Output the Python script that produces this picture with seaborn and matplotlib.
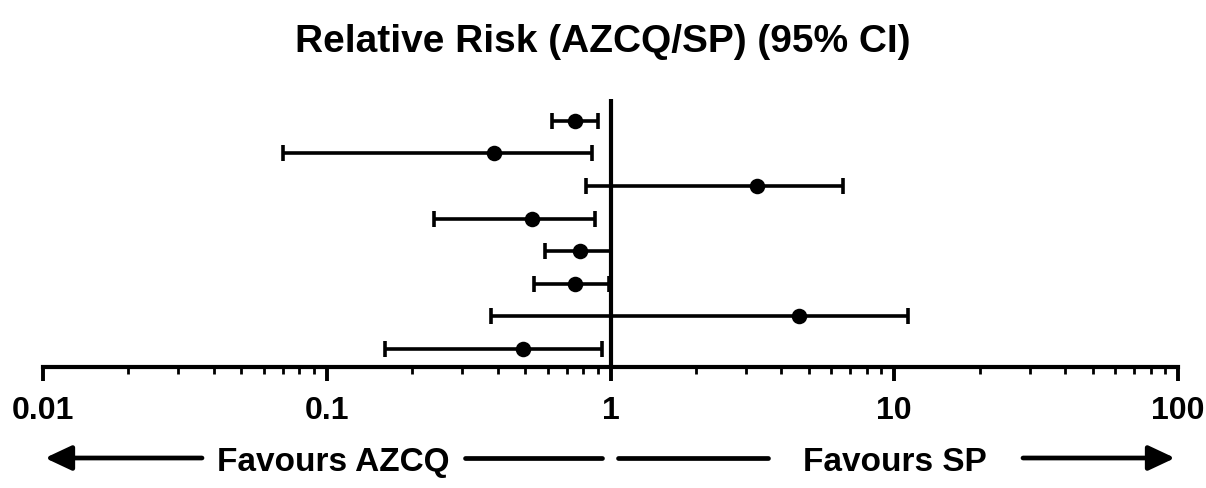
import numpy as np
import pandas as pd
import seaborn as sns
import matplotlib.pyplot as plt
from matplotlib.ticker import LogLocator, NullFormatter, FixedLocator

# relative risk and 95% CI per row (top to bottom)
rows = [1, 2, 3, 4, 5, 6, 7, 8]
rr = [0.75, 0.39, 3.27, 0.53, 0.78, 0.75, 4.6, 0.49]
ci_low = [0.62, 0.070, 0.82, 0.238, 0.586, 0.537, 0.38, 0.16]
ci_high = [0.90, 0.86, 6.6, 0.88, 1.0, 0.99, 11.2, 0.93]
tick_vals = [0.01, 0.1, 1, 10, 100]
tick_labels = ["0.01", "0.1", "1", "10", "100"]

df = pd.DataFrame({"row": rows, "rr": rr, "lo": ci_low, "hi": ci_high})

sns.set_style("white")
plt.rcParams["font.family"] = ["Liberation Sans", "DejaVu Sans"]
plt.rcParams["text.color"] = "black"
plt.rcParams["xtick.color"] = "black"

W, H = 1206, 489
fig = plt.figure(figsize=(W / 100, H / 100), dpi=100)
ax = fig.add_axes([43 / W, 1 - 368 / H, (1178 - 43) / W, (368 - 100) / H])

ax.errorbar(df["rr"], df["row"],
            xerr=[df["rr"] - df["lo"], df["hi"] - df["rr"]],
            fmt="none", ecolor="black", elinewidth=2.6, capsize=5.5, capthick=2.6)
sns.scatterplot(data=df, x="rr", y="row", ax=ax, color="black", s=125,
                edgecolor="black", linewidth=0, zorder=3)

ax.axvline(1, color="black", linewidth=3, zorder=2)

ax.set_xscale("log")
ax.set_xlim(0.01, 100)
ax.set_ylim(8.55, 0.33)
ax.set_yticks([])
ax.set_xlabel("")
ax.set_ylabel("")

for s in ["top", "right", "left"]:
    ax.spines[s].set_visible(False)
ax.spines["bottom"].set_linewidth(3)
ax.spines["bottom"].set_color("black")

ax.xaxis.set_major_locator(FixedLocator(tick_vals))
ax.set_xticklabels(tick_labels, fontsize=23, fontweight="bold")
ax.xaxis.set_minor_locator(LogLocator(base=10, subs=np.arange(2, 10)))
ax.xaxis.set_minor_formatter(NullFormatter())
ax.tick_params(axis="x", which="major", direction="out", length=10, width=2.8,
               bottom=True, pad=10)
ax.tick_params(axis="x", which="minor", direction="out", length=5, width=2,
               bottom=True)

fig.text(0.5, 1 - 52 / H, "Relative Risk (AZCQ/SP) (95% CI)", ha="center",
         va="baseline", fontsize=28, fontweight="bold")

# favours arrows
y_arr = 1 - 459 / H
arrow_kw = dict(arrowstyle="-|>,head_length=1.6,head_width=0.75", color="black",
                lw=3.4, shrinkA=0, shrinkB=0)
ax.annotate("", xy=(45 / W, y_arr), xytext=(202 / W, y_arr),
            xycoords="figure fraction", arrowprops=arrow_kw)
ax.annotate("", xy=(1175 / W, y_arr), xytext=(1023 / W, y_arr),
            xycoords="figure fraction", arrowprops=arrow_kw)
for x0, x1 in [(465, 602), (618, 768)]:
    fig.add_artist(plt.Line2D([x0 / W, x1 / W], [y_arr, y_arr],
                              color="black", lw=3.4))
fig.text(333 / W, 1 - 471 / H, "Favours AZCQ", ha="center", va="baseline",
         fontsize=24, fontweight="bold")
fig.text(895 / W, 1 - 471 / H, "Favours SP", ha="center", va="baseline",
         fontsize=24, fontweight="bold")

fig.savefig("out.png", dpi=100)
